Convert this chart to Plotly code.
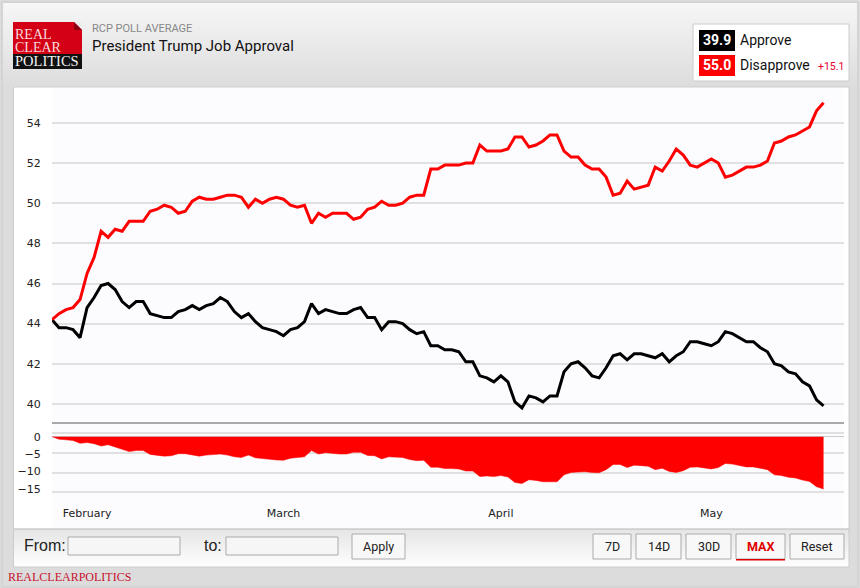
import pandas as pd
import plotly.graph_objects as go

W, H = 860, 588

# values, one per day from Jan 27
start_date = "2025-01-27"
approve = [44.2, 43.8, 43.8, 43.7, 43.3, 44.8, 45.3, 45.9, 46.0, 45.7, 45.1, 44.8, 45.1, 45.1, 44.5, 44.4,
           44.3, 44.3, 44.6, 44.7, 44.9, 44.7, 44.9, 45.0, 45.3, 45.1, 44.6, 44.3, 44.5, 44.1, 43.8, 43.7,
           43.6, 43.4, 43.7, 43.8, 44.1, 45.0, 44.5, 44.7, 44.6, 44.5, 44.5, 44.7, 44.8, 44.3, 44.3, 43.7,
           44.1, 44.1, 44.0, 43.7, 43.5, 43.6, 42.9, 42.9, 42.7, 42.7, 42.6, 42.1, 42.1, 41.4, 41.3, 41.1,
           41.4, 41.1, 40.1, 39.8, 40.4, 40.3, 40.1, 40.4, 40.4, 41.6, 42.0, 42.1, 41.8, 41.4, 41.3, 41.8,
           42.4, 42.5, 42.2, 42.5, 42.5, 42.4, 42.3, 42.5, 42.1, 42.4, 42.6, 43.1, 43.1, 43.0, 42.9, 43.1,
           43.6, 43.5, 43.3, 43.1, 43.1, 42.8, 42.6, 42.0, 41.9, 41.6, 41.5, 41.1, 40.9, 40.2, 39.9]
disapprove = [44.2, 44.5, 44.7, 44.8, 45.2, 46.5, 47.3, 48.6, 48.3, 48.7, 48.6, 49.1, 49.1, 49.1, 49.6, 49.7,
              49.9, 49.8, 49.5, 49.6, 50.1, 50.3, 50.2, 50.2, 50.3, 50.4, 50.4, 50.3, 49.8, 50.2, 50.0, 50.2,
              50.3, 50.2, 49.9, 49.8, 49.9, 49.0, 49.5, 49.3, 49.5, 49.5, 49.5, 49.2, 49.3, 49.7, 49.8, 50.1,
              49.9, 49.9, 50.0, 50.3, 50.4, 50.4, 51.7, 51.7, 51.9, 51.9, 51.9, 52.0, 52.0, 52.9, 52.6, 52.6,
              52.6, 52.7, 53.3, 53.3, 52.8, 52.9, 53.1, 53.4, 53.4, 52.6, 52.3, 52.3, 51.9, 51.7, 51.7, 51.3,
              50.4, 50.5, 51.1, 50.7, 50.8, 50.9, 51.8, 51.6, 52.1, 52.7, 52.4, 51.9, 51.8, 52.0, 52.2, 52.0,
              51.3, 51.4, 51.6, 51.8, 51.8, 51.9, 52.1, 53.0, 53.1, 53.3, 53.4, 53.6, 53.8, 54.6, 55.0]
spread = [0.0, -0.7, -0.9, -1.1, -1.9, -1.7, -2.0, -2.7, -2.3, -3.0, -3.5, -4.3, -4.0, -4.0, -5.1, -5.3,
          -5.6, -5.5, -4.9, -4.9, -5.2, -5.6, -5.3, -5.2, -5.0, -5.3, -5.8, -6.0, -5.3, -6.1, -6.2, -6.5,
          -6.7, -6.8, -6.2, -6.0, -5.8, -4.0, -5.0, -4.6, -4.9, -5.0, -5.0, -4.5, -4.5, -5.4, -5.5, -6.4,
          -5.8, -5.8, -6.0, -6.6, -6.9, -6.8, -8.8, -8.8, -9.2, -9.2, -9.3, -9.9, -9.9, -11.5, -11.3, -11.5,
          -11.2, -11.6, -13.2, -13.5, -12.4, -12.6, -13.0, -13.0, -13.0, -11.0, -10.3, -10.2, -10.1, -10.3, -10.4, -9.5,
          -8.0, -8.0, -8.9, -8.2, -8.3, -8.5, -9.5, -9.1, -10.0, -10.3, -9.8, -8.8, -8.7, -9.0, -9.3, -8.9,
          -7.7, -7.9, -8.3, -8.7, -8.7, -9.1, -9.5, -11.0, -11.2, -11.7, -11.9, -12.5, -12.9, -14.4, -15.1]

month_ticks = ["2025-02-01", "2025-03-01", "2025-04-01", "2025-05-01"]
month_labels = ["February", "March", "April", "May"]
top_ticks = [40, 42, 44, 46, 48, 50, 52, 54]
spread_ticks = [0, -5, -10, -15]

dates = pd.date_range(start_date, periods=len(approve))
x_range = [start_date, "2025-05-19 22:00"]


def px(x):
    return x / W


def py(y):
    return 1 - y / H


def box(x0, y0, x1, y1, fill, line=None, width=1, layer="below"):
    return dict(type="rect", xref="paper", yref="paper", x0=px(x0), x1=px(x1), y0=py(y0), y1=py(y1),
                fillcolor=fill, line=dict(color=line, width=width if line else 0), layer=layer)


def label(x, y, text, size, color, family="Roboto", anchor="left"):
    return dict(xref="paper", yref="paper", x=px(x), y=py(y), text=text, showarrow=False,
                xanchor=anchor, yanchor="middle", font=dict(family=family, size=size, color=color),
                borderpad=0, borderwidth=0)


def blend(c0, c1, t):
    return "rgb(%d,%d,%d)" % tuple(round(a + (b - a) * t) for a, b in zip(c0, c1))


shapes = []
# page frame and header gradient
shapes.append(box(2, 2, 858, 587, "#dcdcdc", "#cccccc"))
for row in range(3, 88):
    shapes.append(box(3, row, 857, row + 1, blend((246, 246, 246), (220, 220, 220), (row - 3) / 85)))

# chart card
shapes.append(box(13.5, 87, 849, 529, "#ffffff", "#cccccc"))
shapes.append(box(52, 88, 844, 528, "#fcfcff"))

# control bar
for row in range(530, 567):
    shapes.append(box(14, row, 849, row + 1, blend((230, 230, 230), (255, 255, 255), (row - 530) / 37)))
shapes.append(box(13.5, 529, 849, 567, "rgba(0,0,0,0)", "#cccccc"))

# logo
shapes.append(box(13, 22, 82, 54, "#d40016"))
shapes.append(box(13, 54, 82, 69, "#111111"))
shapes.append(dict(type="path", xref="paper", yref="paper", layer="below", line=dict(width=0), fillcolor="#ececec",
                   path=f"M {px(74)} {py(22)} L {px(82)} {py(22)} L {px(82)} {py(30)} Z"))
shapes.append(dict(type="path", xref="paper", yref="paper", layer="below", line=dict(width=0), fillcolor="#8e0010",
                   path=f"M {px(74)} {py(22)} L {px(82)} {py(30)} L {px(74)} {py(30)} Z"))

# legend box
shapes.append(box(693, 24, 849, 81, "#ffffff", "#cccccc"))
shapes.append(box(699, 30, 735, 51, "#000000"))
shapes.append(box(699, 55, 735, 76, "#ff0000"))

# inputs and buttons
shapes.append(box(68, 537, 180, 555, "#f6f6f6", "#aaaaaa"))
shapes.append(box(226, 537, 338, 555, "#f6f6f6", "#aaaaaa"))
buttons = [("Apply", 352, 405), ("7D", 593, 631), ("14D", 636, 681), ("30D", 686, 731), ("MAX", 736, 785), ("Reset", 790, 844)]
for _, x0, x1 in buttons:
    shapes.append(box(x0, 534, x1, 559, "#f8f8f8", "#aaaaaa"))
shapes.append(box(736, 559, 785, 560.5, "#e00000"))

# divider between the two panels
shapes.append(box(52, 422, 844, 424, "#aaaaaa", layer="above"))

annotations = [
    label(15, 34.5, "REAL", 14, "#f6dcdc", "Liberation Serif"),
    label(15, 47, "CLEAR", 14, "#f6dcdc", "Liberation Serif"),
    label(15, 61, "POLITICS", 14.5, "#f4f4f4", "Liberation Serif"),
    label(92, 28, "RCP POLL AVERAGE", 11, "#888888"),
    label(92, 46, "President Trump Job Approval", 15, "#111111"),
    label(717, 40.5, "<b>39.9</b>", 14, "#ffffff", anchor="center"),
    label(717, 65.5, "<b>55.0</b>", 14, "#ffffff", anchor="center"),
    label(740, 40, "Approve", 14, "#111111"),
    label(740, 65, "Disapprove", 14, "#111111"),
    label(818, 66, "+15.1", 10.5, "#e8002a"),
    label(24, 545, "From:", 16, "#222222", "Liberation Sans"),
    label(204, 545, "to:", 16, "#222222", "Liberation Sans"),
    label(8, 577, "REALCLEARPOLITICS", 12, "#c8102e", "Liberation Serif"),
]
for text, x0, x1 in buttons:
    color = "#e00000" if text == "MAX" else "#222222"
    annotations.append(label((x0 + x1) / 2, 546, f"<b>{text}</b>" if text == "MAX" else text, 12.5, color, anchor="center"))

fig = go.Figure()
fig.add_trace(go.Scatter(x=dates, y=approve, name="Approve", mode="lines",
                         line=dict(color="#000000", width=3), xaxis="x", yaxis="y"))
fig.add_trace(go.Scatter(x=dates, y=disapprove, name="Disapprove", mode="lines",
                         line=dict(color="#ff0000", width=3), xaxis="x", yaxis="y"))
# one point, draws nothing: keeps the gridline axis of the lower panel alive
fig.add_trace(go.Scatter(x=dates[:1], y=spread[:1], mode="lines", hoverinfo="skip", xaxis="x2", yaxis="y2"))
fig.add_trace(go.Scatter(x=dates, y=spread, name="Spread", mode="lines", fill="tozeroy", fillcolor="#ff0000",
                         line=dict(color="#ff0000", width=0.5), xaxis="x2", yaxis="y3"))

tick_font = dict(family="DejaVu Sans", size=11, color="#222222")
hidden_tick = dict(ticks="outside", tickcolor="rgba(0,0,0,0)")

fig.update_layout(
    width=W, height=H, margin=dict(l=0, r=0, t=0, b=0), showlegend=False,
    paper_bgcolor="#dcdcdc", plot_bgcolor="rgba(0,0,0,0)",
    shapes=shapes, annotations=annotations,
    xaxis=dict(domain=[px(52), px(844)], range=x_range, anchor="y", showgrid=False, showticklabels=False, zeroline=False),
    yaxis=dict(domain=[py(423), py(88)], range=[39.05, 55.74], tickvals=top_ticks, tickfont=tick_font,
               gridcolor="#e0e0e0", gridwidth=1.5, zeroline=False, ticklen=8, **hidden_tick),
    xaxis2=dict(domain=[px(52), px(844)], range=x_range, anchor="y2", showgrid=False, zeroline=False,
                tickvals=month_ticks, ticktext=month_labels, tickfont=tick_font, ticklen=6, **hidden_tick),
    # gridlines of the lower panel sit on a slightly wider scale than its labels and area
    yaxis2=dict(domain=[py(497), py(428)], range=[-16.18, 1.37], tickvals=spread_ticks, showticklabels=False,
                gridcolor="#e0e0e0", gridwidth=1.5, zeroline=False),
    yaxis3=dict(range=[-17.38, 2.51], overlaying="y2", side="left", anchor="x2",
                tickvals=spread_ticks, tickfont=tick_font, showgrid=False, zeroline=True, zerolinecolor="#cccccc",
                zerolinewidth=1, ticklen=8, **hidden_tick),
)

fig.write_html("out.html", config=dict(displayModeBar=False), post_script="document.body.style.margin='0';")
